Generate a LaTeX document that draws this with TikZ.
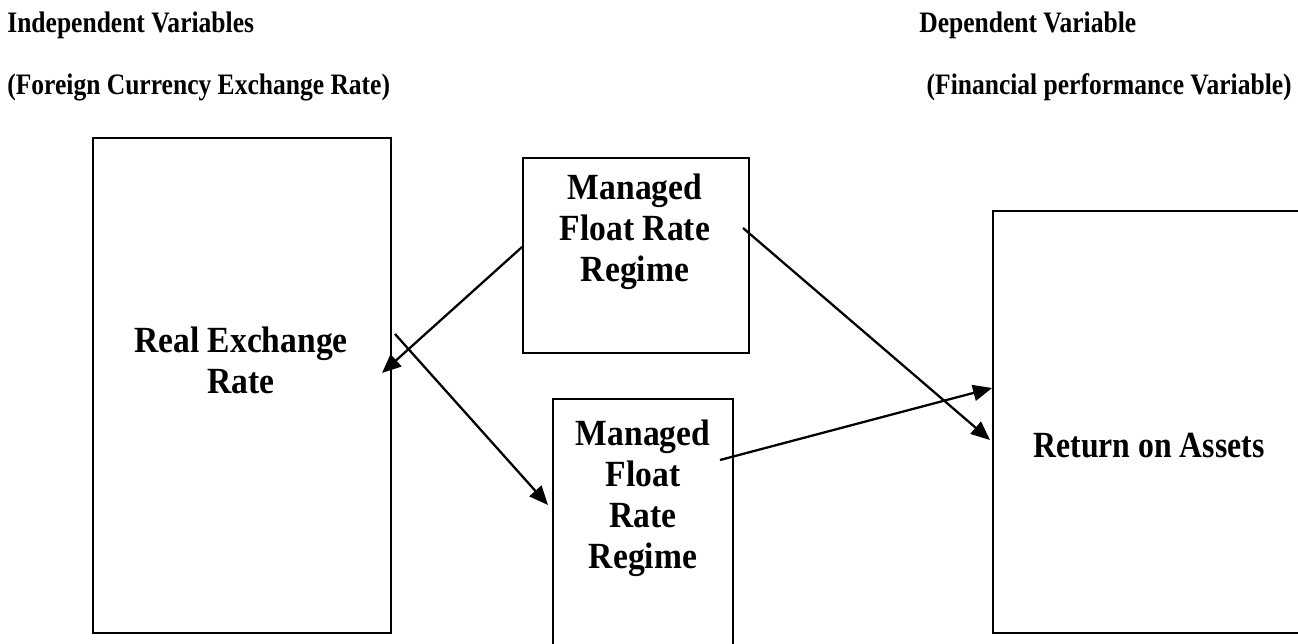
\documentclass[tikz,border=0pt]{standalone}
\usepackage{fontspec}
\setmainfont{Liberation Serif}[FakeStretch=0.86]
\newfontfamily\boxfont{Liberation Serif}[FakeStretch=0.91]
\usetikzlibrary{arrows.meta}

\tikzset{
    box/.style={draw, line width=1.1pt, inner sep=0pt},
    boxtext/.style={align=center, inner sep=0pt, font=\boxfont\fontsize{21}{23.3}\selectfont\bfseries},
    head/.style={inner sep=0pt, font=\fontsize{16.9}{20}\selectfont\bfseries},
    arr/.style={-{Triangle[length=0.38cm, width=0.32cm]}, line width=1.3pt}
}

\begin{document}
\begin{tikzpicture}[x=0.02cm, y=-0.02cm]
        \useasboundingbox (0, 0) rectangle (1298, 643);

        % Headings
        \node[head, anchor=base west] (indep) at (7, 32) {Independent Variables};
        \node[head, anchor=base west] (indepsub) at (7, 94) {(Foreign Currency Exchange Rate)};
        \node[head, anchor=base west] (dep) at (919, 32) {Dependent Variable};
        \node[head, anchor=base east] (depsub) at (1292, 94) {(Financial performance Variable)};

        % Boxes
        \node[box, minimum width=5.96cm, minimum height=9.9cm] (rer) at (242, 385.5) {};
        \node[box, minimum width=4.52cm, minimum height=3.9cm] (mfr1) at (636, 255.5) {};
        \node[box, minimum width=3.6cm, minimum height=5.62cm] (mfr2) at (643, 539.5) {};
        \node[box, minimum width=6.54cm, minimum height=8.44cm] (roa) at (1156.5, 422) {};

        \node[boxtext] (rert) at (241, 360) {Real Exchange\\Rate};
        \node[boxtext] (mfr1t) at (635, 232) {Managed\\Float Rate\\Regime};
        \node[boxtext] (mfr2t) at (643, 498) {Managed\\Float\\Rate\\Regime};
        \node[boxtext, font=\fontsize{21}{23.3}\selectfont\bfseries] (roat) at (1149, 446) {Return on Assets};

        % Arrow ends
        \coordinate (a1) at (mfr1.west |- 0, 247);
        \coordinate (b1) at (382, 373);
        \coordinate (a2) at (395, 334);
        \coordinate (b2) at (548, 505);
        \coordinate (a3) at (720, 460);
        \coordinate (b3) at (roa.west |- 0, 388);
        \coordinate (a4) at (743, 228);
        \coordinate (b4) at (990, 440);

        \draw[arr] (a1) -- (b1);
        \draw[arr] (a2) -- (b2);
        \draw[arr] (a3) -- (b3);
        \draw[arr] (a4) -- (b4);

    \end{tikzpicture}
\end{document}
